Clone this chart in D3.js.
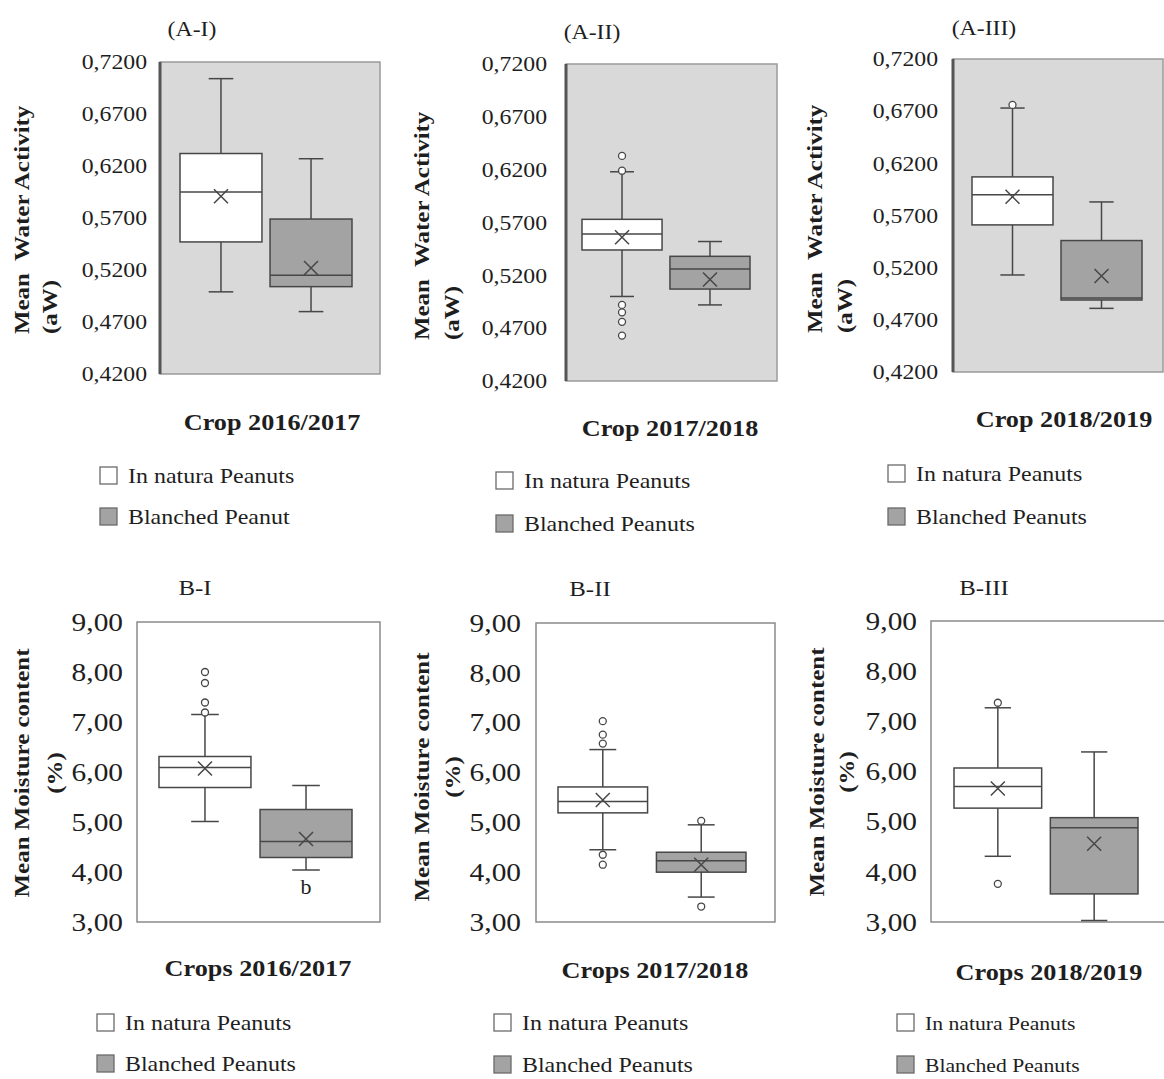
<!DOCTYPE html>
<html>
<head>
<meta charset="utf-8">
<script src="https://cdn.jsdelivr.net/npm/d3@7"></script>
<style>
  body { margin: 0; background: #fff; }
  text { font-family: "Liberation Serif", "Times New Roman", serif; fill: #1e1e1e; white-space: pre; }
</style>
</head>
<body>
<svg id="chart" width="1164" height="1079"></svg>
<script>
// crops and groups
const crops = ["2016/2017", "2017/2018", "2018/2019"];
const groups = ["In natura", "Blanched"];
const awTitles = ["(A-I)", "(A-II)", "(A-III)"];
const mcTitles = ["B-I", "B-II", "B-III"];
const legendNatura = ["In natura Peanuts", "In natura Peanuts", "In natura Peanuts"];
const awLegendBlanched = ["Blanched Peanut", "Blanched Peanuts", "Blanched Peanuts"];
const mcLegendBlanched = ["Blanched Peanuts", "Blanched Peanuts", "Blanched Peanuts"];
const awTicks = [0.42, 0.47, 0.52, 0.57, 0.62, 0.67, 0.72];
const mcTicks = [3, 4, 5, 6, 7, 8, 9];

// box stats: [lower whisker, Q1, median, Q3, upper whisker, mean]
const awNatura = [
  [0.499, 0.547, 0.595, 0.632, 0.704, 0.591],
  [0.500, 0.544, 0.559, 0.573, 0.618, 0.556],
  [0.513, 0.561, 0.590, 0.607, 0.673, 0.588]
];
const awBlanched = [
  [0.480, 0.504, 0.515, 0.569, 0.627, 0.522],
  [0.492, 0.507, 0.526, 0.538, 0.552, 0.516],
  [0.481, 0.489, 0.491, 0.546, 0.583, 0.512]
];
const awNaturaOut = [[], [0.633, 0.619, 0.492, 0.485, 0.476, 0.463], [0.676]];
const awBlanchedOut = [[], [], []];

const mcNatura = [
  [5.01, 5.69, 6.09, 6.31, 7.15, 6.07],
  [4.45, 5.19, 5.42, 5.71, 6.46, 5.45],
  [4.31, 5.27, 5.70, 6.07, 7.27, 5.66]
];
const mcBlanched = [
  [4.04, 4.29, 4.61, 5.25, 5.73, 4.66],
  [3.50, 4.00, 4.23, 4.40, 4.95, 4.15],
  [3.03, 3.56, 4.88, 5.08, 6.39, 4.56]
];
const mcNaturaOut = [[8.00, 7.78, 7.39, 7.19], [7.03, 6.76, 6.58, 4.35, 4.15], [7.37, 3.76]];
const mcBlanchedOut = [[], [5.03, 3.31], []];

// letter under the blanched box of B-I
const mcLetters = [["", "b"], ["", ""], ["", ""]];

// page layout of each panel
const awLayout = [
  {left: 160, right: 380, top: 62, bottom: 374, band: [180, 352], title: [192, 36], tickX: 147, yt: [22, 50, 334], xl: [272, 430], leg: [100, 476, 517]},
  {left: 566, right: 777, top: 64, bottom: 381, band: [582, 750], title: [592, 39], tickX: 547, yt: [422, 452, 340], xl: [670, 436], leg: [496, 481, 524]},
  {left: 953, right: 1163, top: 59, bottom: 372, band: [972, 1142], title: [984, 35], tickX: 938, yt: [815, 845, 333], xl: [1064, 427], leg: [888, 474, 517]}
];
const mcLayout = [
  {left: 137, right: 380, top: 622, bottom: 922, band: [159, 352], title: [195, 595], tickX: 123, yt: [22, 55, 773], xl: [258, 976], leg: [97, 1023, 1064]},
  {left: 536, right: 775, top: 623, bottom: 922, band: [558, 746], title: [590, 596], tickX: 521, yt: [422, 453, 777], xl: [655, 978], leg: [494, 1023, 1065]},
  {left: 931, right: 1166, top: 621, bottom: 922, band: [954, 1138], title: [984, 595], tickX: 917, yt: [817, 847, 772], xl: [1049, 980], leg: [897, 1023, 1065]}
];

const svg = d3.select("#chart");
svg.append("rect").attr("width", 1164).attr("height", 1079).attr("fill", "#fff");

const lineCol = "#474747";
const greyFill = "#a3a3a3";

function stretch(sel, k) {
  sel.each(function () {
    const w = this.getComputedTextLength();
    d3.select(this).attr("textLength", w * k).attr("lengthAdjust", "spacingAndGlyphs");
  });
}

function drawPanel(o) {
  const L = o.layout;
  const g = svg.append("g");
  const y = d3.scaleLinear().domain(o.domain).range([L.bottom, L.top]);
  const x = d3.scaleBand().domain(groups).range(L.band).paddingInner(0.09);
  const fmt = v => d3.format(o.fmt)(v).replace(".", ",");

  // plot area
  g.append("rect")
    .attr("x", L.left).attr("y", L.top)
    .attr("width", L.right - L.left).attr("height", L.bottom - L.top)
    .attr("fill", o.shaded ? "#d9d9d9" : "#fff")
    .attr("stroke", o.shaded ? "#9a9a9a" : "#8a8a8a")
    .attr("stroke-width", 1.5);
  if (o.shaded) {
    g.append("line")
      .attr("x1", L.left).attr("x2", L.left)
      .attr("y1", L.top).attr("y2", L.bottom)
      .attr("stroke", "#555").attr("stroke-width", 3);
  }

  // y axis labels
  const ax = g.append("g")
    .attr("transform", `translate(${L.tickX + 8},0)`)
    .call(d3.axisLeft(y).tickValues(o.ticks).tickFormat(fmt).tickSize(0).tickPadding(8));
  ax.select(".domain").remove();
  ax.selectAll("text")
    .attr("font-size", o.tickSize)
    .style("font-family", '"Liberation Serif", serif')
    .attr("fill", "#2a2a2a")
    .call(stretch, 1.13);

  // boxes
  const stats = [o.natura, o.blanched];
  const outs = [o.naturaOut, o.blanchedOut];
  groups.forEach((grp, i) => {
    const s = stats[i];
    const bx = x(grp), bw = x.bandwidth(), cx = bx + bw / 2, cap = bw * 0.15;
    const bg = g.append("g").attr("stroke", lineCol).attr("stroke-width", 1.5);
    bg.append("line").attr("x1", cx).attr("x2", cx).attr("y1", y(s[0])).attr("y2", y(s[4]));
    [s[0], s[4]].forEach(v => {
      bg.append("line").attr("x1", cx - cap).attr("x2", cx + cap).attr("y1", y(v)).attr("y2", y(v));
    });
    bg.append("rect")
      .attr("x", bx).attr("y", y(s[3]))
      .attr("width", bw).attr("height", y(s[1]) - y(s[3]))
      .attr("fill", i === 0 ? "#fff" : greyFill);
    bg.append("line").attr("x1", bx).attr("x2", bx + bw).attr("y1", y(s[2])).attr("y2", y(s[2]));
    const m = 7, my = y(s[5]);
    bg.append("path")
      .attr("d", `M${cx - m},${my - m}L${cx + m},${my + m}M${cx - m},${my + m}L${cx + m},${my - m}`)
      .attr("fill", "none");
    bg.selectAll("circle")
      .data(outs[i])
      .join("circle")
      .attr("cx", cx).attr("cy", d => y(d)).attr("r", 3.5)
      .attr("fill", "#fff").attr("stroke-width", 1.3);
    if (o.letters && o.letters[i]) {
      g.append("text")
        .attr("x", cx).attr("y", y(s[0]) + 24)
        .attr("text-anchor", "middle").attr("font-size", 22)
        .text(o.letters[i]);
    }
  });

  // panel title
  g.append("text")
    .attr("x", L.title[0]).attr("y", L.title[1])
    .attr("text-anchor", "middle").attr("font-size", o.titleSize)
    .text(o.title)
    .call(stretch, 1.13);

  // y title, two lines
  const yt1 = g.append("text")
    .attr("transform", `translate(${L.yt[0] + 7},${L.yt[2]}) rotate(-90)`)
    .attr("text-anchor", o.shaded ? "start" : "middle")
    .attr("font-size", 21.5).attr("font-weight", "bold")
    .text(o.yTitle[0]);
  stretch(yt1, 1.16);
  const yt2 = g.append("text")
    .attr("transform", `translate(${L.yt[1] + 7},${L.yt[2]}) rotate(-90)`)
    .attr("text-anchor", o.shaded ? "start" : "middle")
    .attr("font-size", 21.5).attr("font-weight", "bold")
    .text(o.yTitle[1]);
  stretch(yt2, 1.16);

  // x label
  g.append("text")
    .attr("x", L.xl[0]).attr("y", L.xl[1])
    .attr("text-anchor", "middle")
    .attr("font-size", 23).attr("font-weight", "bold")
    .text(o.xLabel)
    .call(stretch, 1.14);

  // legend
  const legFills = ["#fff", greyFill];
  [o.legend[0], o.legend[1]].forEach((lab, i) => {
    const ly = L.leg[1 + i];
    g.append("rect")
      .attr("x", L.leg[0]).attr("y", ly - 9)
      .attr("width", 17).attr("height", 17)
      .attr("fill", legFills[i]).attr("stroke", "#6a6a6a").attr("stroke-width", 1.3);
    g.append("text")
      .attr("x", L.leg[0] + 28).attr("y", ly + 7)
      .attr("font-size", o.legendSize)
      .text(lab)
      .call(stretch, 1.14);
  });
}

crops.forEach((c, i) => {
  drawPanel({
    layout: awLayout[i], domain: [0.42, 0.72], ticks: awTicks, fmt: ".4f", shaded: true,
    natura: awNatura[i], blanched: awBlanched[i],
    naturaOut: awNaturaOut[i], blanchedOut: awBlanchedOut[i],
    title: awTitles[i], titleSize: 21, tickSize: 21,
    yTitle: ["Mean  Water Activity", "(aW)"],
    xLabel: "Crop " + c,
    legend: [legendNatura[i], awLegendBlanched[i]], legendSize: 21
  });
  drawPanel({
    layout: mcLayout[i], domain: [3, 9], ticks: mcTicks, fmt: ".2f", shaded: false,
    natura: mcNatura[i], blanched: mcBlanched[i],
    naturaOut: mcNaturaOut[i], blanchedOut: mcBlanchedOut[i],
    letters: mcLetters[i],
    title: mcTitles[i], titleSize: 22, tickSize: 26,
    yTitle: ["Mean Moisture content", "(%)"],
    xLabel: "Crops " + c,
    legend: [legendNatura[i], mcLegendBlanched[i]], legendSize: i === 2 ? 19 : 21
  });
});
</script>
</body>
</html>
